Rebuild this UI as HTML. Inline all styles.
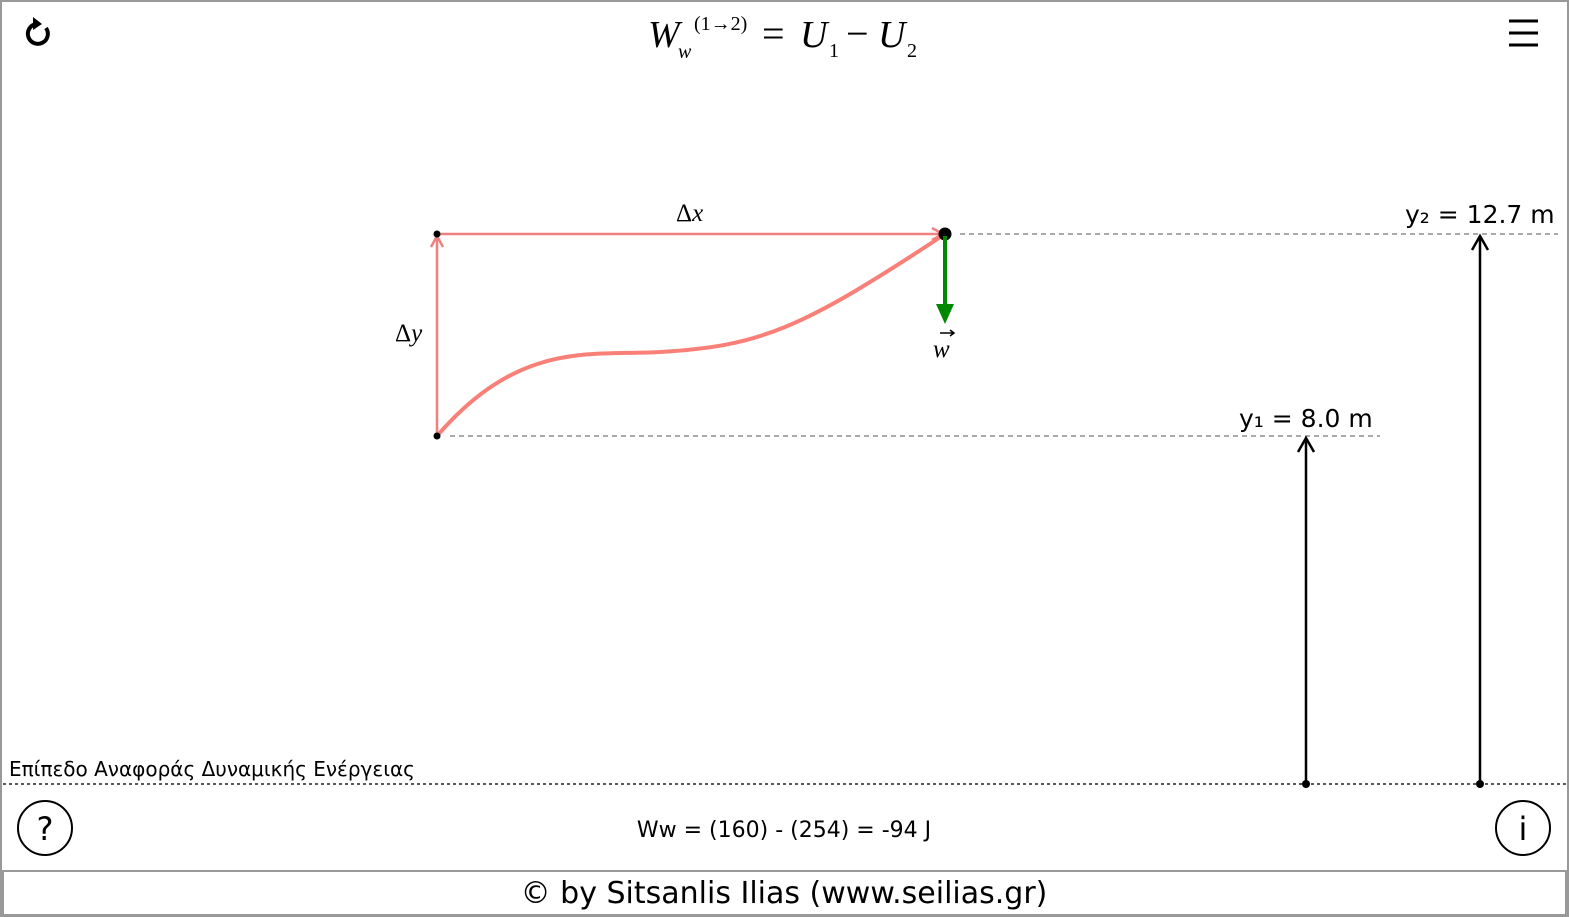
<!DOCTYPE html>
<html><head><meta charset="utf-8"><style>
body{margin:0;width:1569px;height:917px;overflow:hidden;background:#fff;font-family:"DejaVu Sans","Liberation Sans",sans-serif;}
</style></head><body>
<svg width="1569" height="917" xmlns="http://www.w3.org/2000/svg" style="position:absolute;left:0;top:0">
<rect x="1" y="1" width="1567" height="915" fill="none" stroke="#999" stroke-width="2"/>
<rect x="3" y="871" width="1563" height="44" fill="none" stroke="#999" stroke-width="2"/>
<g font-family="Liberation Serif,serif" fill="#000">
<text x="648" y="47" font-size="38" font-style="italic">W</text>
<text x="678" y="58" font-size="20" font-style="italic">w</text>
<text x="694" y="30" font-size="20">(1→2)</text>
<text x="762" y="47" font-size="40">=</text>
<text x="800" y="47" font-size="38" font-style="italic">U</text>
<text x="829" y="57" font-size="20">1</text>
<text x="846" y="47" font-size="40">−</text>
<text x="878" y="47" font-size="38" font-style="italic">U</text>
<text x="907" y="57" font-size="20">2</text>
</g>
<path d="M46,28 A10,10 0 1 1 36,24" fill="none" stroke="#000" stroke-width="4"/>
<path d="M33,17 L42,24 L33,30 Z" fill="#000"/>
<g stroke="#000" stroke-width="3"><line x1="1509" y1="21" x2="1538" y2="21"/><line x1="1509" y1="33" x2="1538" y2="33"/><line x1="1509" y1="45" x2="1538" y2="45"/></g>
<g stroke="#777" stroke-width="1.3" stroke-dasharray="5,4">
<line x1="450" y1="436" x2="1380" y2="436"/>
<line x1="960" y1="234" x2="1558" y2="234"/>
</g>
<line x1="3" y1="784" x2="1566" y2="784" stroke="#222" stroke-width="1.5" stroke-dasharray="3,3"/>
<g stroke="#f08080" stroke-width="2.5" fill="none">
<line x1="437" y1="436" x2="437" y2="236"/>
<polyline points="431,247 437,236 443,247"/>
<line x1="437" y1="234" x2="943" y2="234"/>
<polyline points="932,228 943,234 932,240"/>
</g>
<path d="M437,436 C520,340 590,356 660,352 C760,346 800,330 945,234" stroke="#f88078" stroke-width="4" fill="none"/>
<circle cx="437" cy="436" r="3.5"/><circle cx="437" cy="234" r="3.5"/>
<circle cx="945" cy="234" r="6.5"/>
<line x1="945" y1="236" x2="945" y2="308" stroke="#080" stroke-width="4"/>
<path d="M936,304 L945,324 L954,304 Z" fill="#080"/>
<g font-family="Liberation Serif,serif" font-size="25" font-style="italic">
<text x="676" y="221"><tspan font-style="normal">Δ</tspan>x</text>
<text x="395" y="341"><tspan font-style="normal">Δ</tspan>y</text>
<text x="933" y="357">w</text>
</g>
<path d="M940,333 L954,333 M950,330 L954,333 L950,336" stroke="#000" stroke-width="1.5" fill="none"/>
<g stroke="#000" stroke-width="2.5" fill="none">
<line x1="1306" y1="784" x2="1306" y2="438"/><polyline points="1298,452 1306,438 1314,452"/>
<line x1="1480" y1="784" x2="1480" y2="236"/><polyline points="1472,250 1480,236 1488,250"/>
</g>
<circle cx="1306" cy="784" r="4"/><circle cx="1480" cy="784" r="4"/>
<g font-size="25" fill="#000">
<text x="1239" y="427">y₁ = 8.0 m</text>
<text x="1405" y="223">y₂ = 12.7 m</text>
</g>
<text x="9" y="776" font-size="20">Επίπεδο Αναφοράς Δυναμικής Ενέργειας</text>
<circle cx="45" cy="828" r="27" fill="none" stroke="#000" stroke-width="2"/>
<text x="45" y="840" font-size="32" text-anchor="middle">?</text>
<circle cx="1523" cy="828" r="27" fill="none" stroke="#000" stroke-width="2"/>
<text x="1523" y="840" font-size="32" text-anchor="middle">i</text>
<text x="784" y="837" font-size="22" text-anchor="middle">Ww = (160) - (254) = -94 J</text>
<text x="784" y="903" font-size="30" text-anchor="middle">© by Sitsanlis Ilias (www.seilias.gr)</text>
</svg>
</body></html>
